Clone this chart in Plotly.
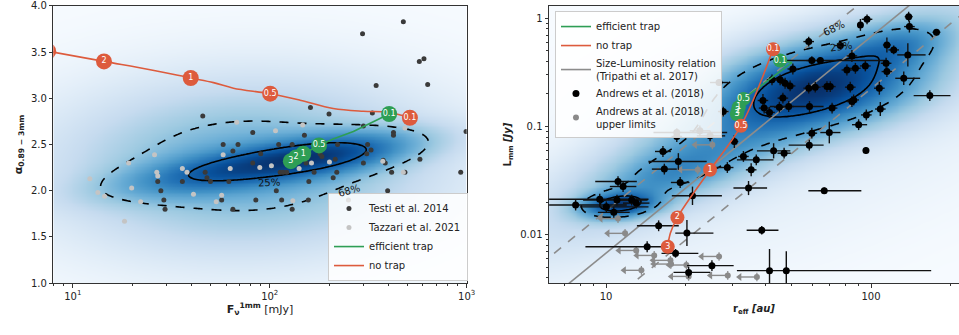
import numpy as np
import plotly.graph_objects as go

# ================= LEFT PANEL DATA =================
testi_flux = [477, 296, 575, 607, 634, 347, 45.7, 161, 200, 332, 299, 425, 425, 993, 82, 150,
              58, 69, 111, 130, 221, 314, 65, 90, 180, 311, 327, 184, 215, 377, 82, 153, 299, 386,
              47, 113, 117, 122, 168, 219, 416, 486, 933, 48, 210, 579, 36, 50, 62, 27, 158,
              28, 108, 397, 29, 57, 85, 115, 157, 251, 29.4, 65, 130]
testi_alpha = [3.83, 3.70, 3.40, 3.43, 3.15, 3.14, 2.81, 2.90, 2.83, 2.84, 2.70, 2.63, 2.60, 2.64, 2.63, 2.60,
               2.50, 2.50, 2.50, 2.50, 2.50, 2.50, 2.43, 2.40, 2.40, 2.40, 2.44, 2.37, 2.34, 2.33, 2.30, 2.30, 2.30, 2.30,
               2.20, 2.20, 2.20, 2.20, 2.20, 2.20, 2.20, 2.20, 2.20, 2.14, 2.14, 2.34, 2.10, 2.10, 2.10, 2.10, 2.10,
               2.00, 2.00, 2.00, 1.90, 1.90, 1.90, 1.90, 1.90, 1.90, 1.80, 1.80, 1.80]
tazzari_flux = [12.2, 19.2, 13.4, 14.5, 19.9, 18.3, 22.1, 26, 26.7, 27, 36, 38, 41, 53.5, 57, 58, 68, 63,
                89, 102, 107, 131, 141, 147, 163, 201, 375, 486, 477]
tazzari_alpha = [2.13, 2.30, 1.98, 1.94, 2.03, 1.67, 1.88, 2.39, 2.20, 2.16, 2.24, 2.20, 1.96, 1.88, 1.95, 2.39, 2.74, 2.24,
                 2.25, 2.27, 2.65, 1.89, 2.24, 2.71, 2.30, 2.31, 2.32, 2.68, 2.20]

notrap_L_flux = [7.5, 14.4, 24.7, 39.7, 51.8, 65.4, 100.5, 142.5, 210, 299, 400, 515]
notrap_L_alpha = [3.51, 3.40, 3.31, 3.22, 3.17, 3.11, 3.05, 2.98, 2.89, 2.86, 2.85, 2.79]
notrap_L_mflux = [7.5, 14.4, 39.7, 100.5, 515]
notrap_L_malpha = [3.51, 3.40, 3.22, 3.05, 2.79]
notrap_L_labels = ["3", "2", "1", "0.5", "0.1"]

trap_L_flux = [404, 266, 210, 178, 148, 136, 128]
trap_L_alpha = [2.83, 2.64, 2.56, 2.49, 2.40, 2.36, 2.32]
trap_L_mflux = [404, 178, 148, 136, 128]
trap_L_malpha = [2.83, 2.49, 2.40, 2.36, 2.32]
trap_L_labels = ["0.1", "0.5", "1", "2", "3"]

# density model of the simulated population (weight, log10 F, alpha, sigma_a, sigma_b, angle deg)
left_components = [
    (0.20, 1.78, 2.22, 0.36, 0.13, 19.0),
    (0.20, 2.31, 2.40, 0.29, 0.13, 19.0),
    (0.60, 1.88, 2.27, 0.50, 0.47, 20.0),
]

# ================= RIGHT PANEL DATA =================
andrews_r = [96.6, 91.2, 138.7, 139.6, 176.6, 58.2, 76.6, 114.8, 121.8, 84.7, 137.7, 59.8, 64.4, 114, 114.8,
             81.1, 87.3, 95.2, 132.9, 166.7, 50.7, 45.4, 47.4, 49.5, 42.3, 58.2, 61.6, 68.2, 70.2, 83.5,
             107.5, 86.0, 84.7, 46.5, 39.1, 39.5, 41.4, 45.1, 48.9, 58.6, 71.3, 108.4, 96.0, 89.8, 69.6,
             59.8, 58.5, 95.7, 42.9, 47.0, 33.0, 36.9, 35.3, 34.5, 66.6, 38.7, 41.4, 47.9, 27.7, 26.7,
             30.5, 22.6, 24.7, 18.5, 18.5, 16.4, 18.75, 16.6, 28.7, 19.05, 21.2, 15.8, 20.2, 14.3, 18.3,
             25.1, 20.5, 7.68, 9.47, 10.03, 10.7, 11.0, 12.5, 13.0, 11.1, 11.6]
andrews_L = [0.979, 0.868, 1.036, 0.838, 0.743, 0.609, 0.560, 0.567, 0.510, 0.449, 0.459, 0.407, 0.407, 0.384, 0.322,
             0.333, 0.345, 0.363, 0.279, 0.193, 0.340, 0.270, 0.251, 0.237, 0.270, 0.226, 0.231, 0.234, 0.234, 0.231,
             0.226, 0.176, 0.170, 0.183, 0.174, 0.148, 0.135, 0.151, 0.153, 0.153, 0.148, 0.145, 0.128, 0.104, 0.088,
             0.0868, 0.0673, 0.060, 0.0596, 0.0567, 0.0529, 0.0492, 0.0398, 0.027, 0.0255, 0.011, 0.00466, 0.00466, 0.1375, 0.255,
             0.0727, 0.0912, 0.082, 0.088, 0.0809, 0.0588, 0.0475, 0.0404, 0.0418, 0.0304, 0.0229, 0.0121, 0.01036, 0.00775, 0.00673,
             0.00518, 0.00449, 0.0188, 0.0213, 0.0181, 0.0161, 0.0209, 0.0209, 0.0196, 0.031, 0.0279]
# error bar half-lengths in dex
andrews_dxm = [0.02, 0.01, 0.015, 0.02, 0.015, 0.02, 0.022, 0.015, 0.02, 0.02, 0.04, 0.02, 0.145, 0.02, 0.02,
               0.02, 0.02, 0.02, 0.032, 0.061, 0.02, 0.02, 0.02, 0.02, 0.02, 0.02, 0.02, 0.02, 0.02, 0.02,
               0.02, 0.02, 0.02, 0.02, 0.02, 0.02, 0.02, 0.02, 0.02, 0.15, 0.02, 0.02, 0.02, 0.025, 0.034,
               0.02, 0.078, 0.005, 0.063, 0.025, 0.02, 0.073, 0.02, 0.057, 0.06, 0.057, 0.123, 0.01, 0.02, 0.034,
               0.015, 0.038, 0.05, 0.088, 0.02, 0.03, 0.113, 0.047, 0.047, 0.035, 0.078, 0.082, 0.044, 0.233, 0.053,
               0.094, 0.057, 0.10, 0.191, 0.10, 0.06, 0.128, 0.06, 0.05, 0.086, 0.05]
andrews_dxp = [0.02, 0.01, 0.015, 0.02, 0.015, 0.02, 0.022, 0.015, 0.02, 0.02, 0.067, 0.02, 0.246, 0.02, 0.02,
               0.02, 0.02, 0.02, 0.062, 0.078, 0.02, 0.02, 0.02, 0.02, 0.02, 0.02, 0.02, 0.02, 0.02, 0.02,
               0.02, 0.02, 0.02, 0.02, 0.02, 0.02, 0.02, 0.02, 0.02, 0.053, 0.02, 0.02, 0.02, 0.032, 0.042,
               0.02, 0.054, 0.005, 0.063, 0.025, 0.02, 0.065, 0.02, 0.07, 0.14, 0.063, 0.61, 0.01, 0.02, 0.035,
               0.015, 0.038, 0.057, 0.19, 0.02, 0.03, 0.107, 0.047, 0.023, 0.035, 0.111, 0.076, 0.10, 0.075, 0.086,
               0.082, 0.082, 0.193, 0.184, 0.159, 0.06, 0.073, 0.06, 0.05, 0.071, 0.05]
andrews_dy = [0.045, 0.055, 0.045, 0.055, 0.03, 0.045, 0.03, 0.07, 0.04, 0.055, 0.108, 0.04, 0.03, 0.05, 0.05,
              0.05, 0.05, 0.05, 0.062, 0.05, 0.05, 0.05, 0.05, 0.05, 0.05, 0.05, 0.05, 0.05, 0.05, 0.05,
              0.06, 0.05, 0.05, 0.05, 0.06, 0.05, 0.05, 0.05, 0.05, 0.05, 0.05, 0.065, 0.05, 0.05, 0.10,
              0.05, 0.05, 0.03, 0.07, 0.05, 0.05, 0.05, 0.06, 0.065, 0.03, 0.04, 0.20, 0.18, 0.045, 0.03,
              0.06, 0.05, 0.05, 0.04, 0.05, 0.05, 0.077, 0.05, 0.05, 0.05, 0.085, 0.05, 0.12, 0.05, 0.04,
              0.05, 0.05, 0.05, 0.05, 0.05, 0.05, 0.05, 0.05, 0.05, 0.05, 0.05]

ulim_r = [25.2, 22.2, 11.1, 11.8, 13.0, 15.2, 17.5, 17.6, 26.7, 13.6, 20.5, 28.8, 37.1, 20.1]
ulim_L = [0.0677, 0.0398, 0.0141, 0.0103, 0.00716, 0.00644, 0.0058, 0.00536, 0.0063, 0.00469, 0.00412, 0.00421, 0.00407, 0.00525]
ulim_arrow_factor = 0.86

notrap_R_r = [17.1, 17.5, 18.6, 24.7, 32.3, 42.7]
notrap_R_L = [0.00775, 0.01036, 0.01445, 0.0398, 0.1014, 0.517]
notrap_R_mr = [17.1, 18.6, 24.7, 32.3, 42.7]
notrap_R_mL = [0.00775, 0.01445, 0.0398, 0.1014, 0.517]
notrap_R_labels = ["3", "2", "1", "0.5", "0.1"]

trap_R_r = [45.4, 50.3, 33.0, 31.7, 31.4, 31.2]
trap_R_L = [0.407, 0.390, 0.180, 0.151, 0.1395, 0.130]
trap_R_mr = [45.4, 33.0, 31.7, 31.4, 31.2]
trap_R_mL = [0.407, 0.180, 0.151, 0.1395, 0.130]
trap_R_labels = ["0.1", "0.5", "1", "2", "3"]

# Tripathi et al. 2017 size-luminosity relation: log L = slope*log r + intercept
sl_slope = 2.0
sl_intercept = -4.17
sl_upper_intercept = -3.78
sl_lower_intercept = -4.65
sl_r = [5, 250]

right_components = [
    (0.38, 1.80, -0.63, 0.27, 0.21, 45.0),
    (0.44, 1.62, -0.87, 0.66, 0.17, 54.0),
    (0.05, 1.05, -1.72, 0.09, 0.07, 25.0),
    (0.05, 1.24, -1.44, 0.22, 0.10, 50.0),
    (0.04, 2.10, -0.25, 0.15, 0.10, 53.0),
    (0.04, 1.70, -1.20, 0.90, 0.35, 50.0),
]
display_gamma = 0.5

# ================= helpers =================
RED = "#dd5b3d"
GREEN = "#2e9e55"
BLUES = [[0.0, "#f7fbff"], [0.125, "#deebf7"], [0.25, "#c6dbef"], [0.375, "#9ecae1"],
         [0.5, "#6baed6"], [0.625, "#4292c6"], [0.75, "#2171b5"], [0.875, "#08519c"], [1.0, "#08306b"]]
FONT = "DejaVu Sans"


def mixture(U, V, comps):
    Z = np.zeros_like(U)
    for (w, cu, cv, sa, sb, th) in comps:
        t = np.deg2rad(th)
        du, dv = U - cu, V - cv
        a = du * np.cos(t) + dv * np.sin(t)
        b = -du * np.sin(t) + dv * np.cos(t)
        Z += w / (2 * np.pi * sa * sb) * np.exp(-0.5 * ((a / sa) ** 2 + (b / sb) ** 2))
    return Z


def hdr_levels(Z, fracs):
    zs = np.sort(Z.ravel())[::-1]
    c = np.cumsum(zs)
    c /= c[-1]
    return [zs[np.searchsorted(c, f)] for f in fracs]


fig = go.Figure()

# ----- left density -----
uL = np.linspace(-0.2, 3.8, 280)
vL = np.linspace(0.4, 4.4, 260)
UL, VL = np.meshgrid(uL, vL)
ZL = mixture(UL, VL, left_components)
l25, l68 = hdr_levels(ZL, [0.25, 0.68])
fig.add_trace(go.Heatmap(x=10 ** uL, y=vL, z=(ZL / ZL.max()) ** display_gamma, colorscale=BLUES, zmin=0, zmax=1,
                         showscale=False, hoverinfo="skip", zsmooth="best", xaxis="x", yaxis="y"))
for lvl, dash in [(l68, "dash"), (l25, "solid")]:
    fig.add_trace(go.Contour(x=10 ** uL, y=vL, z=ZL, autocontour=False,
                             contours=dict(start=lvl, end=lvl, size=1, coloring="none"),
                             line=dict(color="black", width=1.6, dash=dash), showscale=False,
                             hoverinfo="skip", showlegend=False, xaxis="x", yaxis="y"))

fig.add_trace(go.Scatter(x=testi_flux, y=testi_alpha, mode="markers", name="Testi et al. 2014",
                         marker=dict(color="#3a3a3a", size=5), legend="legend", legendrank=1,
                         xaxis="x", yaxis="y"))
fig.add_trace(go.Scatter(x=tazzari_flux, y=tazzari_alpha, mode="markers", name="Tazzari et al. 2021",
                         marker=dict(color="#c4c4c4", size=5), legend="legend", legendrank=2,
                         xaxis="x", yaxis="y"))
fig.add_trace(go.Scatter(x=trap_L_flux, y=trap_L_alpha, mode="lines", name="efficient trap",
                         line=dict(color=GREEN, width=1.6), legend="legend", legendrank=3,
                         xaxis="x", yaxis="y"))
fig.add_trace(go.Scatter(x=notrap_L_flux, y=notrap_L_alpha, mode="lines", name="no trap",
                         line=dict(color=RED, width=1.6, shape="spline"), legend="legend", legendrank=4,
                         xaxis="x", yaxis="y"))
for xs, ys, labs, col in [(trap_L_mflux, trap_L_malpha, trap_L_labels, GREEN),
                          (notrap_L_mflux, notrap_L_malpha, notrap_L_labels, RED)]:
    fig.add_trace(go.Scatter(x=xs, y=ys, mode="markers+text", text=labs, textposition="middle center",
                             textfont=dict(color="white", size=8, family=FONT),
                             marker=dict(color=col, size=16), showlegend=False, hoverinfo="skip",
                             cliponaxis=True, xaxis="x", yaxis="y"))

# ----- right density -----
uR = np.linspace(0.0, 3.0, 280)
vR = np.linspace(-3.6, 1.0, 280)
UR, VR = np.meshgrid(uR, vR)
ZR = mixture(UR, VR, right_components)
r25, r68 = hdr_levels(ZR, [0.25, 0.68])
fig.add_trace(go.Heatmap(x=10 ** uR, y=10 ** vR, z=(ZR / ZR.max()) ** display_gamma, colorscale=BLUES, zmin=0, zmax=1,
                         showscale=False, hoverinfo="skip", zsmooth="best", xaxis="x2", yaxis="y2"))
for lvl, dash in [(r68, "dash"), (r25, "solid")]:
    fig.add_trace(go.Contour(x=10 ** uR, y=10 ** vR, z=ZR, autocontour=False,
                             contours=dict(start=lvl, end=lvl, size=1, coloring="none"),
                             line=dict(color="black", width=1.6, dash=dash), showscale=False,
                             hoverinfo="skip", showlegend=False, xaxis="x2", yaxis="y2"))

# size-luminosity lines
sl_r_arr = np.array(sl_r, dtype=float)
for icpt, dash, show in [(sl_upper_intercept, "dash", False), (sl_lower_intercept, "dash", False),
                         (sl_intercept, "solid", True)]:
    fig.add_trace(go.Scatter(x=sl_r_arr, y=10 ** (sl_slope * np.log10(sl_r_arr) + icpt), mode="lines",
                             line=dict(color="#8c8c8c", width=1.6, dash=dash),
                             name="Size-Luminosity relation<br>(Tripathi et al. 2017)", showlegend=show,
                             legend="legend2", legendrank=3, hoverinfo="skip", xaxis="x2", yaxis="y2"))

# upper limits
ur = np.array(ulim_r)
uLm = np.array(ulim_L)
fig.add_trace(go.Scatter(x=ur, y=uLm, mode="markers", name="Andrews at al. (2018)<br>upper limits",
                         marker=dict(color="#8a8a8a", size=6),
                         error_x=dict(type="data", symmetric=False, array=np.zeros_like(ur),
                                      arrayminus=ur * (1 - ulim_arrow_factor), color="#8a8a8a",
                                      thickness=1.4, width=0),
                         error_y=dict(type="data", symmetric=False, array=uLm * (10 ** 0.04 - 1),
                                      arrayminus=uLm * (1 - 10 ** -0.04), color="#8a8a8a", thickness=1.2, width=0),
                         legend="legend2", legendrank=5, xaxis="x2", yaxis="y2", showlegend=True))
fig.add_trace(go.Scatter(x=ur * ulim_arrow_factor, y=uLm, mode="markers",
                         marker=dict(color="#8a8a8a", size=7, symbol="triangle-left"),
                         showlegend=False, hoverinfo="skip", xaxis="x2", yaxis="y2"))

# Andrews detections
ar = np.array(andrews_r)
aL = np.array(andrews_L)
fig.add_trace(go.Scatter(x=ar, y=aL, mode="markers", name="Andrews et al. (2018)",
                         marker=dict(color="black", size=7),
                         error_x=dict(type="data", symmetric=False, array=ar * (10 ** np.array(andrews_dxp) - 1),
                                      arrayminus=ar * (1 - 10 ** -np.array(andrews_dxm)), color="#111111",
                                      thickness=1.4, width=0),
                         error_y=dict(type="data", symmetric=False, array=aL * (10 ** np.array(andrews_dy) - 1),
                                      arrayminus=aL * (1 - 10 ** -np.array(andrews_dy)), color="#111111",
                                      thickness=1.4, width=0),
                         legend="legend2", legendrank=4, showlegend=True, xaxis="x2", yaxis="y2"))

# tracks
fig.add_trace(go.Scatter(x=trap_R_r, y=trap_R_L, mode="lines", name="efficient trap",
                         line=dict(color=GREEN, width=1.6), legend="legend2", legendrank=1,
                         xaxis="x2", yaxis="y2"))
fig.add_trace(go.Scatter(x=notrap_R_r, y=notrap_R_L, mode="lines", name="no trap",
                         line=dict(color=RED, width=1.6, shape="spline"), legend="legend2", legendrank=2,
                         xaxis="x2", yaxis="y2"))
for xs, ys, labs, col in [(trap_R_mr, trap_R_mL, trap_R_labels, GREEN),
                          (notrap_R_mr, notrap_R_mL, notrap_R_labels, RED)]:
    fig.add_trace(go.Scatter(x=xs, y=ys, mode="markers+text", text=labs, textposition="middle center",
                             textfont=dict(color="white", size=8, family=FONT),
                             marker=dict(color=col, size=14), showlegend=False, hoverinfo="skip",
                             xaxis="x2", yaxis="y2"))

# contour labels
annotations = [
    dict(x=np.log10(99.6), y=2.09, xref="x", yref="y", text="25%", textangle=-3),
    dict(x=np.log10(253), y=2.0, xref="x", yref="y", text="68%", textangle=-17),
    dict(x=np.log10(72.2), y=np.log10(0.80), xref="x2", yref="y2", text="68%", textangle=-25),
    dict(x=np.log10(77.3), y=np.log10(0.55), xref="x2", yref="y2", text="25%", textangle=-8),
]
for a in annotations:
    a.update(showarrow=False, font=dict(size=10, color="#111111", family=FONT))

axis_common = dict(showline=True, linecolor="#333333", linewidth=1, mirror=True, ticks="outside",
                   ticklen=3.5, tickcolor="#333333", showgrid=False, zeroline=False, automargin=False,
                   tickfont=dict(size=10, color="#222222", family=FONT))

fig.update_layout(
    width=959, height=335, margin=dict(l=0, r=0, t=0, b=0, autoexpand=False),
    paper_bgcolor="white", plot_bgcolor="white",
    font=dict(family=FONT, color="#222222"),
    annotations=annotations,
    xaxis=dict(type="log", domain=[0.0556, 0.4866], range=[0.901, 3.0],
               tickmode="array", tickvals=[10, 100, 1000],
               ticktext=["10<sup>1</sup>", "10<sup>2</sup>", "10<sup>3</sup>"],
               minor=dict(tickmode="array", tickvals=[8, 9] + list(range(20, 100, 10)) + list(range(200, 1000, 100)),
                          ticks="outside", ticklen=2, tickcolor="#333333", showgrid=False),
               title=dict(text="<b>F<sub>ν</sub><sup>1mm</sup></b> [mJy]", font=dict(size=11), standoff=4),
               anchor="y", **axis_common),
    yaxis=dict(domain=[0.1552, 0.9821], range=[1.0, 4.0], tickmode="array",
               tickvals=[1.0, 1.5, 2.0, 2.5, 3.0, 3.5, 4.0], ticktext=["1.0", "1.5", "2.0", "2.5", "3.0", "3.5", "4.0"],
               title=dict(text="<b>α<sub>0.89 − 3mm</sub></b>", font=dict(size=11), standoff=6),
               anchor="x", **axis_common),
    xaxis2=dict(type="log", domain=[0.5725, 1.0], range=[0.785, 2.332],
                tickmode="array", tickvals=[10, 100], ticktext=["10", "100"],
                minor=dict(tickmode="array", tickvals=[6, 7, 8, 9] + list(range(20, 100, 10)) + [200],
                           ticks="outside", ticklen=2, tickcolor="#333333", showgrid=False),
                title=dict(text="<b>r<sub>eff</sub> <i>[au]</i></b>", font=dict(size=10), standoff=4),
                anchor="y2", **axis_common),
    yaxis2=dict(type="log", domain=[0.1552, 0.9821], range=[-2.446, 0.1136],
                tickmode="array", tickvals=[0.01, 0.1, 1], ticktext=["0.01", "0.1", "1"],
                minor=dict(tickmode="array",
                           tickvals=[0.004, 0.005, 0.006, 0.007, 0.008, 0.009, 0.02, 0.03, 0.04, 0.05, 0.06,
                                     0.07, 0.08, 0.09, 0.2, 0.3, 0.4, 0.5, 0.6, 0.7, 0.8, 0.9],
                           ticks="outside", ticklen=2, tickcolor="#333333", showgrid=False),
                title=dict(text="<b>L<sub>mm</sub> <i>[Jy]</i></b>", font=dict(size=10), standoff=6),
                anchor="x2", **axis_common),
    legend=dict(x=0.342, y=0.161, xanchor="left", yanchor="bottom", bgcolor="rgba(255,255,255,0.85)",
                bordercolor="#cccccc", borderwidth=1, font=dict(size=10, family=FONT, color="#222222"),
                tracegroupgap=0, itemwidth=30),
    legend2=dict(x=0.5787, y=0.967, xanchor="left", yanchor="top", bgcolor="rgba(255,255,255,0.85)",
                 bordercolor="#cccccc", borderwidth=1, font=dict(size=10, family=FONT, color="#222222"),
                 tracegroupgap=0, itemwidth=30),
)

fig.write_html("out.html", config={"displayModeBar": False},
               post_script="document.body.style.margin='0px';")
